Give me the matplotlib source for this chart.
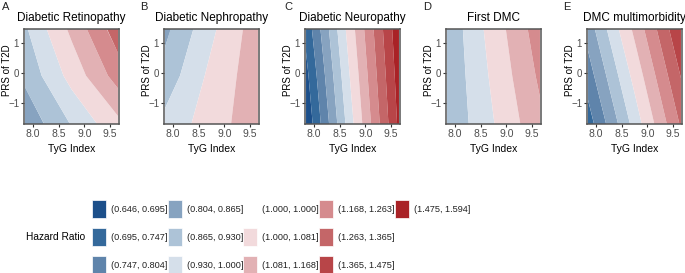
import numpy as np
import matplotlib
matplotlib.use("Agg")
import matplotlib.pyplot as plt
from matplotlib.patches import Rectangle

plt.rcParams['font.family'] = ['Liberation Sans', 'DejaVu Sans']

tyg = [7.85, 8.75, 9.65]
prs = [-1.7, -0.1, 1.45]

# rows: prs (bottom -> top), cols: tyg (left -> right)
hr_retino = [[0.82, 0.934, 1.057],
             [0.88, 1.027, 1.21],
             [0.92, 1.10, 1.32]]
hr_nephro = [[0.95, 1.04, 1.14],
             [0.89, 1.02, 1.135],
             [0.85, 0.985, 1.13]]
hr_neuro = [[0.655, 0.99, 1.50],
            [0.68, 1.025, 1.53],
            [0.71, 1.06, 1.56]]
hr_first = [[0.875, 0.997, 1.147],
            [0.877, 1.016, 1.185],
            [0.88, 1.035, 1.22]]
hr_multi = [[0.72, 0.956, 1.275],
            [0.775, 1.025, 1.37],
            [0.83, 1.10, 1.47]]

panels = ["A", "B", "C", "D", "E"]
titles = ["Diabetic Retinopathy", "Diabetic Nephropathy", "Diabetic Neuropathy",
          "First DMC", "DMC multimorbidity"]
hr_all = [hr_retino, hr_nephro, hr_neuro, hr_first, hr_multi]

# legend bins
breaks = [0.646, 0.695, 0.747, 0.804, 0.865, 0.930, 1.000, 1.000001,
          1.081, 1.168, 1.263, 1.365, 1.475, 1.594]
bin_labels = ["(0.646, 0.695]", "(0.695, 0.747]", "(0.747, 0.804]",
              "(0.804, 0.865]", "(0.865, 0.930]", "(0.930, 1.000]",
              "(1.000, 1.000]", "(1.000, 1.081]", "(1.081, 1.168]",
              "(1.168, 1.263]", "(1.263, 1.365]", "(1.365, 1.475]",
              "(1.475, 1.594]"]
colors = ["#1c4f8a", "#34699b", "#5f84ab", "#87a3c0", "#adc3d7", "#d5dfea",
          "#ffffff", "#f2dadc", "#e2b1b4", "#d58b8e", "#c46668", "#b84548",
          "#a92226"]

W, H = 685, 273
fig = plt.figure(figsize=(W / 100, H / 100), dpi=100)

box_left = [24, 164, 305, 446, 587]
label_x = [2, 140, 284, 423, 563]
box_top, box_size = 29, 95

X, Y = np.meshgrid(tyg, prs)
lev = np.log(breaks)

for i in range(5):
    ax = fig.add_axes([box_left[i] / W, 1 - (box_top + box_size) / H,
                       box_size / W, box_size / H])
    Z = np.log(np.array(hr_all[i]))
    ax.contourf(X, Y, Z, levels=lev, colors=colors, antialiased=True)
    ax.set_xlim(7.83, 9.67)
    ax.set_ylim(-1.7, 1.45)
    ax.set_xticks([8.0, 8.5, 9.0, 9.5])
    ax.set_xticklabels(["8.0", "8.5", "9.0", "9.5"])
    ax.set_yticks([-1, 0, 1])
    ax.set_yticklabels(["\u22121", "0", "1"])
    ax.tick_params(length=2.5, width=0.8, color="#333333", labelsize=7.5,
                   labelcolor="#4d4d4d", pad=1)
    ax.tick_params(axis="y", labelsize=7)
    for s in ax.spines.values():
        s.set_color("#555555")
        s.set_linewidth(1.1)
    ax.set_xlabel("TyG Index", fontsize=7.5, labelpad=4)
    ax.set_ylabel("PRS of T2D", fontsize=7)
    ax.yaxis.set_label_coords(-0.13, 0.57)
    ax.set_title(titles[i], fontsize=8.5, pad=6)
    fig.text(label_x[i] / W, 1 - 2 / H, panels[i], fontsize=8, va="top",
             ha="left", color="#222222")

# legend drawn in pixel coordinates
lax = fig.add_axes([0, 0, 1, 1], zorder=-1)
lax.set_xlim(0, W)
lax.set_ylim(H, 0)
lax.axis("off")
lax.text(85, 237, "Hazard Ratio", fontsize=7.3, ha="right", va="center")
for k in range(len(bin_labels)):
    col, row = k // 3, k % 3
    x0 = 92 + 75.7 * col
    yc = 209 + 28 * row
    lax.add_patch(Rectangle((x0, yc - 9), 14, 18, facecolor=colors[k],
                            edgecolor="white", lw=0.5))
    lax.text(x0 + 19, yc, bin_labels[k], fontsize=6.6, ha="left", va="center",
             color="#222222")

fig.savefig("out.png", dpi=100)
